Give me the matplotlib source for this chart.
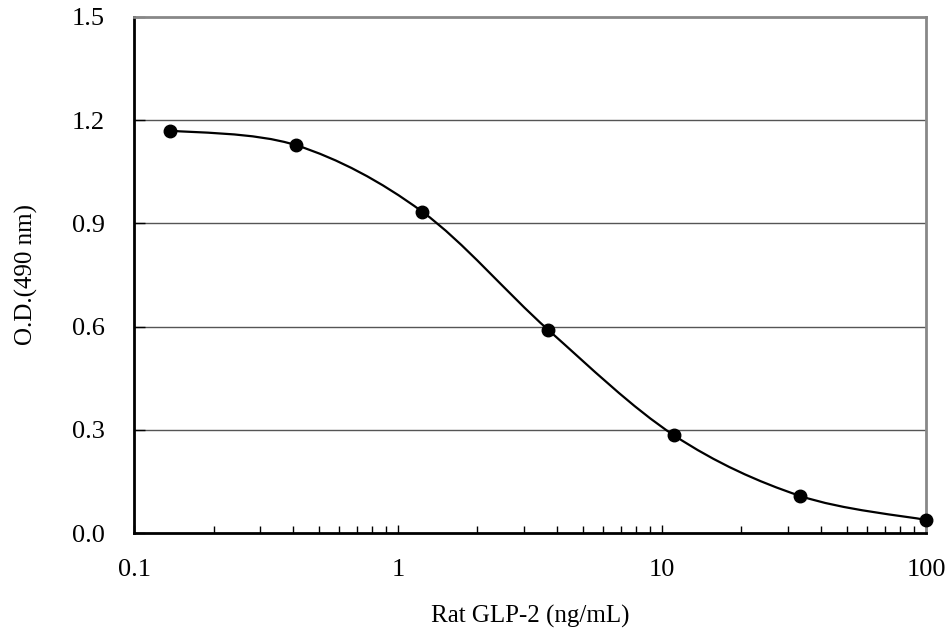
import numpy as np
import matplotlib
matplotlib.use('Agg')
import matplotlib.pyplot as plt
from matplotlib.path import Path
from matplotlib.patches import PathPatch
from matplotlib.ticker import LogLocator, FixedLocator, FixedFormatter, NullFormatter

# standard curve: 3-fold dilution series
conc = [0.137, 0.412, 1.235, 3.70, 11.1, 33.3, 100.0]
od = [1.170, 1.127, 0.934, 0.591, 0.284, 0.108, 0.038]

x_ticks = [0.1, 1, 10, 100]
x_labels = ['0.1', '1', '10', '100']
y_ticks = [0.0, 0.3, 0.6, 0.9, 1.2, 1.5]
y_labels = ['0.0', '0.3', '0.6', '0.9', '1.2', '1.5']

plt.rcParams['font.family'] = ['Liberation Serif', 'DejaVu Serif']

fig = plt.figure(figsize=(9.52, 6.34), dpi=100)
ax = fig.add_axes([0.1408, 0.1593, 0.8319, 0.8139])
ax.set_xscale('log')
ax.set_xlim(0.1, 100)
ax.set_ylim(0, 1.5)

# smoothed line (Excel-style bezier) in roughly pixel-proportional space
u = np.log10(conc) * 264.0
v = np.array(od) * 344.0
pts = np.column_stack([u, v])
n = len(pts)
verts = [pts[0]]
codes = [Path.MOVETO]
for i in range(n - 1):
    p_prev = pts[i - 1] if i > 0 else pts[i]
    p_next2 = pts[i + 2] if i + 2 < n else pts[i + 1]
    c1 = pts[i] + (pts[i + 1] - p_prev) / 6.0
    c2 = pts[i + 1] - (p_next2 - pts[i]) / 6.0
    verts += [c1, c2, pts[i + 1]]
    codes += [Path.CURVE4] * 3
verts = np.array(verts)
verts_data = np.column_stack([10 ** (verts[:, 0] / 264.0), verts[:, 1] / 344.0])
curve = PathPatch(Path(verts_data, codes), facecolor='none', edgecolor='black',
                  lw=1.6, zorder=3)
ax.add_patch(curve)

ax.plot(conc, od, 'o', color='black', markersize=9, zorder=4, clip_on=False)

for yv in y_ticks[1:-1]:
    ax.axhline(yv, color='#555555', lw=1.0, zorder=1)

ax.xaxis.set_major_locator(FixedLocator(x_ticks))
ax.xaxis.set_major_formatter(FixedFormatter(x_labels))
ax.xaxis.set_minor_locator(LogLocator(base=10, subs=np.arange(2, 10)))
ax.xaxis.set_minor_formatter(NullFormatter())
ax.yaxis.set_major_locator(FixedLocator(y_ticks))
ax.yaxis.set_major_formatter(FixedFormatter(y_labels))

ax.tick_params(axis='x', which='major', direction='in', length=6, width=1.0,
               labelsize=19, pad=19)
ax.tick_params(axis='x', which='minor', direction='in', length=5, width=1.0)
ax.tick_params(axis='y', which='major', direction='in', length=8, width=1.0,
               labelsize=19, pad=21)

for s in ['left', 'bottom']:
    ax.spines[s].set_color('black')
    ax.spines[s].set_linewidth(2.0)
for s in ['top', 'right']:
    ax.spines[s].set_color('#888888')
    ax.spines[s].set_linewidth(2.0)

ax.set_xlabel('Rat GLP-2 (ng/mL)', fontsize=18, labelpad=17)
ax.set_ylabel('O.D.(490 nm)', fontsize=18, labelpad=24)

fig.savefig('out.png', dpi=100)
